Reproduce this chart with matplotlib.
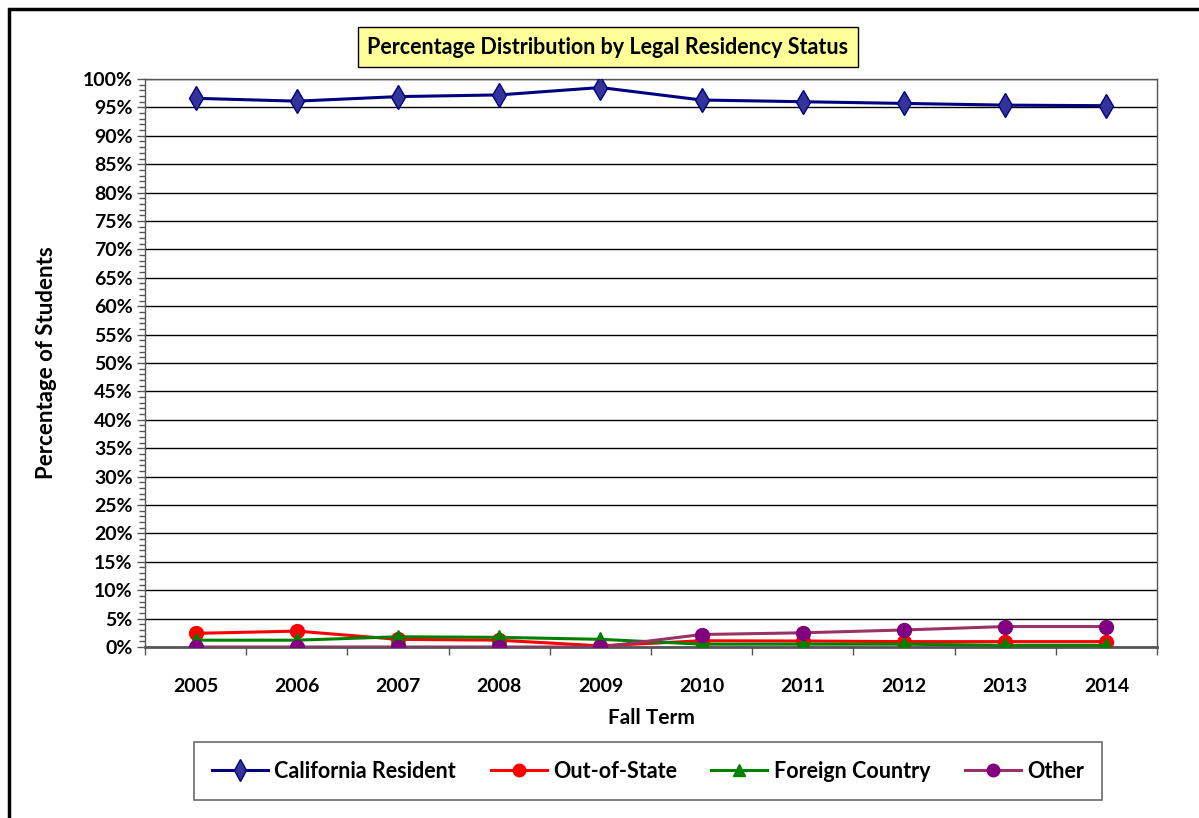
import matplotlib
matplotlib.use("Agg")
import matplotlib.pyplot as plt
from matplotlib.patches import Rectangle
from matplotlib.ticker import MultipleLocator, FuncFormatter, FixedLocator

plt.rcParams['font.family'] = ['Lato', 'DejaVu Sans']
plt.rcParams['font.weight'] = 'bold'

years = ['2005', '2006', '2007', '2008', '2009', '2010', '2011', '2012', '2013', '2014']
california = [96.6, 96.1, 96.9, 97.2, 98.5, 96.3, 96.0, 95.7, 95.4, 95.3]
out_of_state = [2.4, 2.8, 1.35, 1.2, 0.2, 1.1, 1.05, 0.95, 0.95, 0.95]
foreign = [1.2, 1.2, 1.8, 1.7, 1.35, 0.5, 0.5, 0.5, 0.3, 0.3]
other = [0.0, 0.0, 0.0, 0.0, 0.0, 2.2, 2.5, 3.0, 3.6, 3.6]

W, H = 1199, 818
fig = plt.figure(figsize=(W / 100, H / 100), dpi=100)
ax = fig.add_axes([145 / W, 1 - 647 / H, 1012 / W, 568 / H])

x = list(range(len(years)))
ax.plot(x, california, color='#000080', lw=2.2, marker='d', ms=12,
        mfc='#333399', mec='#000080', mew=1, label='California Resident', zorder=5)
ax.plot(x, out_of_state, color='#FF0000', lw=2.2, marker='o', ms=10,
        mfc='#FF0000', mec='#FF0000', label='Out-of-State', zorder=4)
ax.plot(x, foreign, color='#008000', lw=2.2, marker='^', ms=10,
        mfc='#008000', mec='#008000', label='Foreign Country', zorder=4)
ax.plot(x, other, color='#993366', lw=2.2, marker='o', ms=10,
        mfc='#800080', mec='#800080', label='Other', zorder=4)

ax.set_xlim(-0.5, len(years) - 0.5)
ax.set_ylim(0, 100)
ax.yaxis.set_major_locator(MultipleLocator(5))
ax.yaxis.set_minor_locator(MultipleLocator(1))
ax.yaxis.set_major_formatter(FuncFormatter(lambda v, p: f'{v:.0f}%'))
ax.set_xticks(x)
ax.set_xticklabels(years)
ax.xaxis.set_minor_locator(FixedLocator([i - 0.5 for i in range(len(years) + 1)]))
ax.tick_params(axis='x', which='major', length=0, pad=22, labelsize=14)
ax.tick_params(axis='x', which='minor', length=6, width=1, color='#555555', direction='out')
ax.tick_params(axis='y', which='major', length=6, width=1, color='#555555', labelsize=14, pad=3)
ax.tick_params(axis='y', which='minor', length=4, width=1, color='#555555')

ax.grid(axis='y', which='major', color='black', lw=1)
ax.set_axisbelow(True)
for side in ['top', 'right', 'left']:
    ax.spines[side].set_color('#555555')
    ax.spines[side].set_linewidth(1)
ax.spines['bottom'].set_color('#555555')
ax.spines['bottom'].set_linewidth(2)

ax.set_ylabel('Percentage of Students', fontsize=16, fontweight='bold', labelpad=18)
ax.set_xlabel('Fall Term', fontsize=15, fontweight='bold', labelpad=10)

fig.text(608 / W, 1 - 47 / H, 'Percentage Distribution by Legal Residency Status',
         ha='center', va='center', fontsize=15.5, fontweight='bold',
         bbox=dict(boxstyle='square,pad=0.45', fc='#FFFF99', ec='black', lw=1))

leg = fig.legend(loc='center', bbox_to_anchor=(648 / W, 1 - 771 / H), ncol=4,
                 frameon=True, fancybox=False, handlelength=2.6, handletextpad=0.3,
                 columnspacing=1.6, borderpad=0.85, borderaxespad=0, markerscale=0.9,
                 prop={'weight': 'bold', 'size': 15.5})
leg.get_frame().set_edgecolor('#444444')
leg.get_frame().set_linewidth(1.2)

fig.patches.append(Rectangle((9 / W, -0.1), 1.2, 1 - 9 / H + 0.1, transform=fig.transFigure,
                             fill=False, ec='black', lw=2.5))

fig.savefig('out.png', dpi=100)
